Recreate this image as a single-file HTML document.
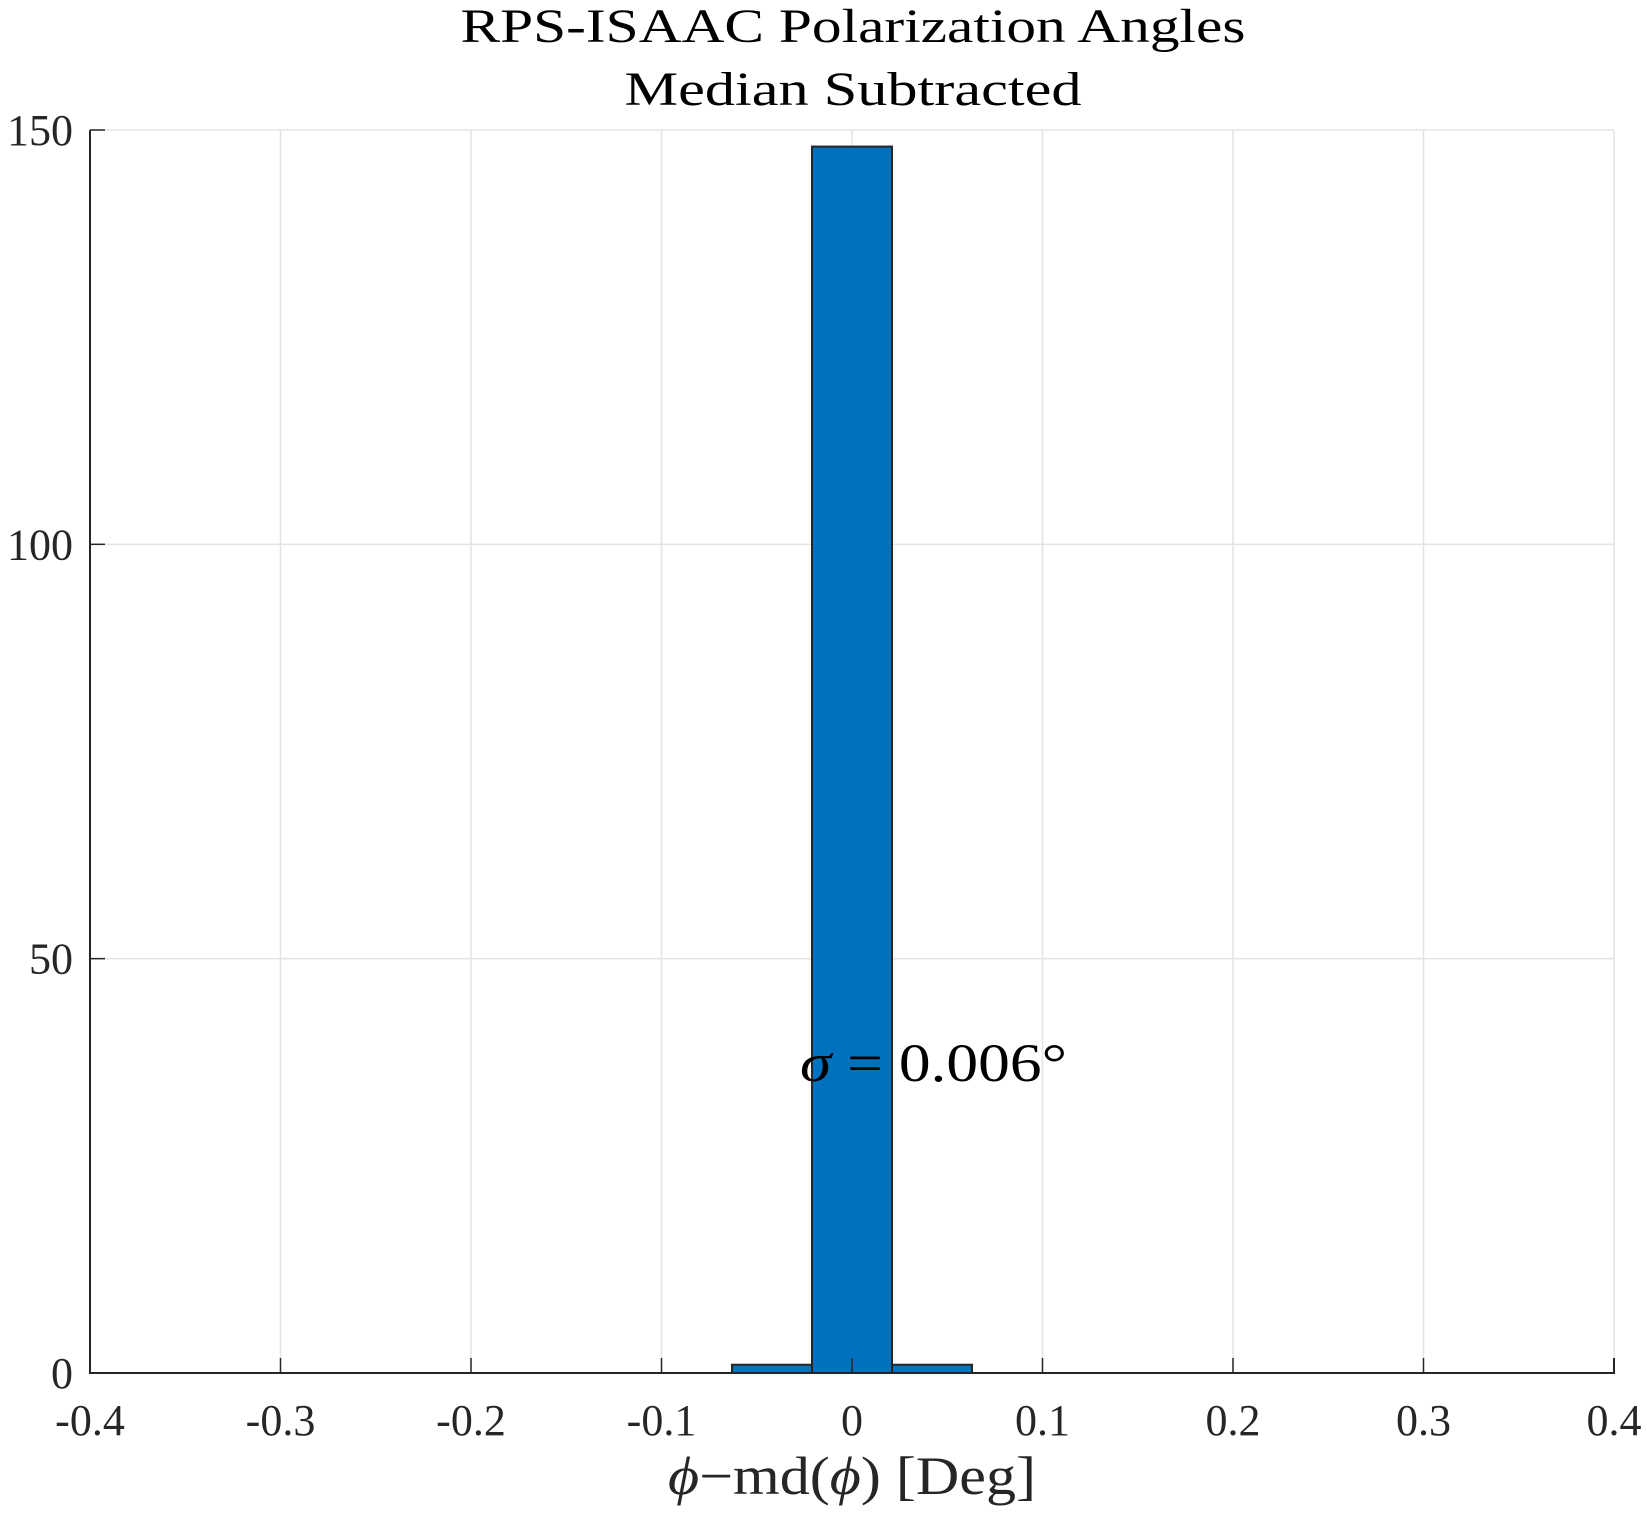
<!DOCTYPE html>
<html><head><meta charset="utf-8"><style>
html,body{margin:0;padding:0;background:#fff;}
svg{display:block;font-family:"Liberation Serif",serif;}
</style></head><body>
<svg id="chart" width="1647" height="1518" viewBox="0 0 1647 1518">
<g id="grid"></g>
<g id="bars"></g>
<g id="axes"></g>
<text x="853" y="42" text-anchor="middle" font-size="48" textLength="785" lengthAdjust="spacingAndGlyphs" fill="#000">RPS-ISAAC Polarization Angles</text>
<text x="853" y="105" text-anchor="middle" font-size="48" textLength="457" lengthAdjust="spacingAndGlyphs" fill="#000">Median Subtracted</text>
<text x="852" y="1494" text-anchor="middle" font-size="54" textLength="368" lengthAdjust="spacingAndGlyphs" fill="#262626"><tspan font-style="italic">ϕ</tspan>−md(<tspan font-style="italic">ϕ</tspan>) [Deg]</text>
<text x="800" y="1081" font-size="54" textLength="267" lengthAdjust="spacingAndGlyphs" fill="#000"><tspan font-style="italic">σ</tspan> = 0.006°</text>
</svg>
<script>
const binEdges = [-0.063, -0.021, 0.021, 0.063];
const counts = [1, 148, 1];
const xTicks = [-0.4, -0.3, -0.2, -0.1, 0, 0.1, 0.2, 0.3, 0.4];
const xTickLabels = ["-0.4", "-0.3", "-0.2", "-0.1", "0", "0.1", "0.2", "0.3", "0.4"];
const yTicks = [0, 50, 100, 150];
const yTickLabels = ["0", "50", "100", "150"];

const L = 90, R = 1614, T = 130, B = 1373;
const xMin = -0.4, xMax = 0.4, yMin = 0, yMax = 150;
const sx = v => L + (v - xMin) / (xMax - xMin) * (R - L);
const sy = v => B - (v - yMin) / (yMax - yMin) * (B - T);
const NS = "http://www.w3.org/2000/svg";
function mk(tag, attrs, parent) {
  const e = document.createElementNS(NS, tag);
  for (const k in attrs) e.setAttribute(k, attrs[k]);
  parent.appendChild(e);
  return e;
}
const grid = document.getElementById('grid');
const bars = document.getElementById('bars');
const axes = document.getElementById('axes');

xTicks.forEach((t, i) => {
  const g = mk('line', {x1: sx(t), x2: sx(t), y1: T, y2: B, stroke: '#e3e3e3', 'stroke-width': 1.5}, grid);
  
  
  const tk = mk('line', {x1: sx(t), x2: sx(t), y1: B, y2: B - 15, stroke: '#262626', 'stroke-width': 1.5}, axes);
  
  
  const lb = mk('text', {x: sx(t), y: 1435, 'text-anchor': 'middle', 'font-size': 44, fill: '#262626'}, axes);
  lb.textContent = xTickLabels[i];
  
  
});
yTicks.forEach((t, i) => {
  const g = mk('line', {x1: L, x2: R, y1: sy(t), y2: sy(t), stroke: '#e3e3e3', 'stroke-width': 1.5}, grid);
  
  
  const tk = mk('line', {x1: L, x2: L + 15, y1: sy(t), y2: sy(t), stroke: '#262626', 'stroke-width': 1.5}, axes);
  
  
  const lb = mk('text', {x: 73, y: sy(t) + 15, 'text-anchor': 'end', 'font-size': 44, fill: '#262626'}, axes);
  lb.textContent = yTickLabels[i];
  
  
});
counts.forEach((c, i) => {
  const x0 = sx(binEdges[i]), x1 = sx(binEdges[i + 1]);
  const r = mk('rect', {x: x0, y: sy(c), width: x1 - x0, height: sy(0) - sy(c), fill: '#0072bd', stroke: '#262626', 'stroke-width': 2}, bars);
  
  
});
const ax = mk('path', {d: `M${L},${T} L${L},${B} L${R},${B} L${R},${B-15}`, fill: 'none', stroke: '#262626', 'stroke-width': 2}, axes);


</script>
</body></html>
